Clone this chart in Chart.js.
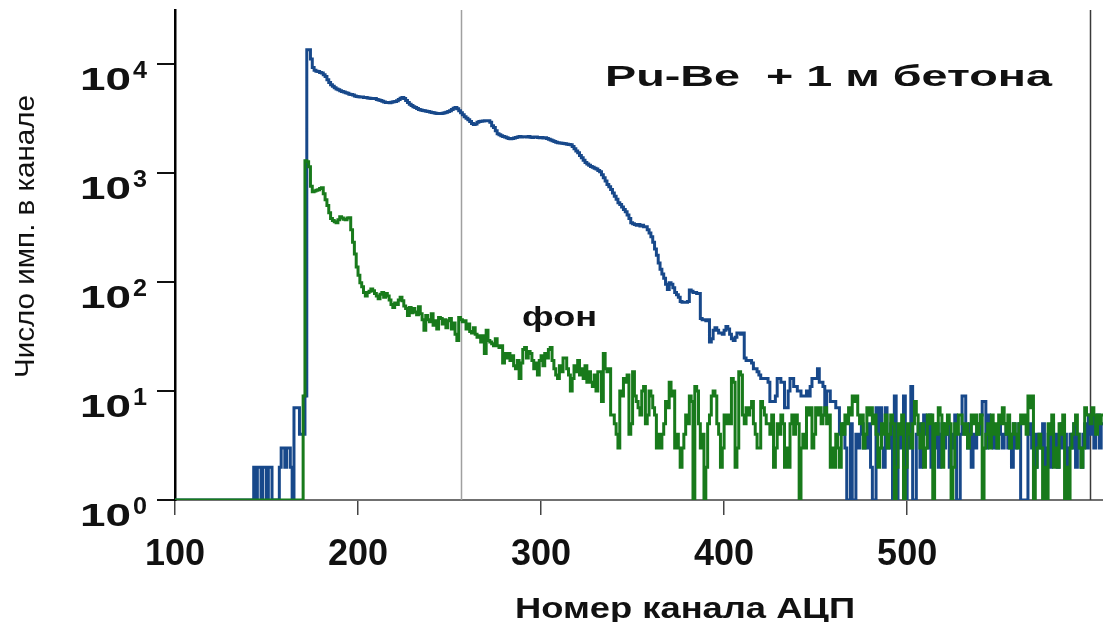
<!DOCTYPE html>
<html>
<head>
<meta charset="utf-8">
<script src="https://cdn.jsdelivr.net/npm/chart.js@4.4.1/dist/chart.umd.min.js"></script>
<style>
  html, body { margin: 0; padding: 0; background: #ffffff; }
  #wrap { width: 1103px; height: 622px; }
  canvas { display: block; }
</style>
</head>
<body>
<div id="wrap"><canvas id="spectrum" width="1103" height="622"></canvas></div>
<script>
// ADC channel of the first entry in each spectrum
const firstChannel = 100;

// Pu-Be source behind 1 m of concrete: counts per ADC channel (ch 100 … 607)
const pubeCounts = [
  1,1,1,1,1,1,1,1,1,1,
  1,1,1,1,1,1,1,1,1,1,
  1,1,1,1,1,1,1,1,1,1,
  1,1,1,1,1,1,1,1,1,1,
  1,1,1,1,2,1,2,2,1,2,
  2,1,2,2,1,1,1,1,2,3,
  3,2,3,3,2,1,7,7,7,4,
  4,4,9,13400,13400,11000,9200,8700,8500,8450,
  8300,8200,7900,7600,7100,6700,6400,6200,6000,5850,
  5750,5650,5550,5500,5400,5350,5250,5200,5150,5050,
  5000,4980,4950,4950,4900,4880,4850,4820,4800,4790,
  4780,4700,4650,4600,4520,4450,4400,4390,4380,4420,
  4460,4490,4560,4700,4820,4880,4800,4600,4390,4250,
  4120,4020,3950,3880,3800,3750,3720,3700,3660,3630,
  3600,3570,3540,3510,3490,3480,3480,3500,3540,3590,
  3630,3700,3800,3900,3950,3850,3700,3550,3400,3250,
  3150,3060,2950,2820,2760,2800,2900,2940,2960,2980,
  3000,3000,3000,2900,2700,2590,2420,2280,2230,2180,
  2150,2120,2090,2060,2050,2060,2080,2100,2120,2150,
  2120,2140,2140,2130,2150,2110,2100,2130,2120,2100,
  2090,2100,2080,2090,2060,2030,1990,1960,1930,1900,
  1880,1870,1860,1850,1840,1820,1810,1800,1740,1660,
  1580,1520,1440,1370,1300,1240,1200,1170,1140,1120,
  1100,1080,1050,1020,960,900,840,780,744,700,
  650,610,570,531,510,485,460,439,410,380,
  348,340,335,330,335,325,330,320,320,300,
  280,259,230,200,175,149,130,118,108,95,
  85,98,95,88,80,76,72,66,65,65,
  65,66,84,82,80,80,78,78,46,45,
  45,44,45,28,30,36,38,36,34,34,
  33,36,39,37,33,30,29,31,34,34,
  33,34,20,19,19,19,18,16,16,15,
  14,13,13,13,13,12,8,8,8,9,
  13,13,12,12,7,7,10,13,13,11,
  11,10,10,9,9,9,10,9,11,13,
  13,13,16,12,12,11,6,10,10,8,
  8,8,7,7,4,4,5,3,1,1,
  5,1,1,4,3,4,5,3,4,3,
  5,2,1,1,7,4,7,3,2,7,
  3,3,5,1,9,1,4,3,5,9,
  1,3,4,11,1,1,4,5,2,5,
  6,4,3,6,2,4,3,5,2,4,
  5,3,4,5,2,3,4,6,1,1,
  4,9,9,4,3,5,2,4,3,5,
  4,6,8,8,3,6,4,5,3,4,
  3,5,4,3,4,5,3,4,2,5,
  3,4,5,1,1,1,1,4,5,3,
  4,2,4,4,3,5,2,3,4,2,
  5,3,4,2,3,5,3,4,2,3,
  4,3,5,2,4,3,2,4,5,3,
  6,4,6,3,5,6,3,5
];

// Background ("фон"): counts per ADC channel (ch 100 … 607)
const backgroundCounts = [
  1,1,1,1,1,1,1,1,1,1,
  1,1,1,1,1,1,1,1,1,1,
  1,1,1,1,1,1,1,1,1,1,
  1,1,1,1,1,1,1,1,1,1,
  1,1,1,1,1,1,1,1,1,1,
  1,1,1,1,1,1,1,1,1,1,
  1,1,1,1,1,1,1,1,1,1,
  1,9,1290,1260,1135,750,670,680,690,698,
  715,728,640,565,500,430,380,365,355,348,
  370,395,385,375,371,385,387,300,230,180,
  137,115,98,90,80,74,80,82,86,83,
  78,74,70,77,80,72,78,74,68,62,
  58,64,62,68,72,67,60,57,49,58,
  52,57,53,50,59,51,45,36,49,45,
  43,51,40,44,37,47,46,41,45,38,
  44,46,37,42,33,29,47,45,43,44,
  37,41,35,34,38,33,31,32,28,32,
  22,36,29,28,27,26,30,26,25,26,
  18,22,20,22,19,21,17,16,19,13,
  18,24,25,20,23,22,19,16,18,14,
  19,21,17,22,20,24,25,19,16,14,
  13,17,15,20,20,16,14,10,13,17,
  15,19,14,16,13,17,12,15,12,11,
  14,10,15,15,8,22,16,15,16,6,
  6,5,4,3,10,9,13,12,14,4,
  5,15,9,8,7,6,10,11,5,6,
  10,9,7,6,3,4,3,4,5,8,
  7,12,9,10,3,4,3,2,3,4,
  6,5,9,8,1,11,10,5,3,4,
  1,2,5,6,9,10,9,5,4,2,
  3,6,5,6,5,13,12,2,3,15,
  14,6,5,7,6,7,8,5,4,3,
  3,8,7,6,5,5,4,6,2,3,
  5,4,6,5,2,3,2,5,6,4,
  6,5,1,3,4,3,7,6,7,3,
  4,7,6,7,5,6,7,5,6,2,
  3,2,4,3,2,5,4,6,5,7,
  6,9,8,9,6,5,6,3,4,7,
  6,7,5,6,4,2,3,5,4,6,
  3,4,6,5,1,2,5,4,6,1,
  2,5,4,3,5,8,6,4,3,5,
  2,3,6,5,6,1,5,4,7,6,
  2,5,4,6,5,1,2,5,4,6,
  6,5,4,5,3,4,6,5,6,4,
  5,6,1,3,4,5,3,6,4,5,
  3,6,5,7,5,4,6,3,4,5,
  4,3,5,6,5,6,4,9,7,9,
  1,2,3,4,3,1,2,1,5,4,
  6,2,3,2,5,4,6,1,2,1,
  3,4,5,6,4,3,2,3,7,6,
  6,5,7,6,4,6,5,6
];

// channel numbers for every entry
const channels = pubeCounts.map((_, i) => firstChannel + i);

// axis ticks
const xTickValues = [100, 200, 300, 400, 500];
const xTickLabels = ['100', '200', '300', '400', '500'];
const yTickValues = [1, 10, 100, 1000, 10000];
const yTickExponents = ['0', '1', '2', '3', '4'];

// vertical marker lines (ADC channels)
const markerChannels = [256, 600];

// texts
const titleText = 'Pu-Be  + 1 м бетона';
const backgroundLabel = 'фон';
const xAxisTitle = 'Номер канала АЦП';
const yAxisTitle = 'Число имп. в канале';

const BLUE = '#17488a';
const GREEN = '#187a1b';
const FONT = '"Liberation Sans", Arial, sans-serif';

// draws a string squeezed/stretched horizontally to a given width
function fitText(ctx, str, x, y, font, width, align) {
  ctx.save();
  ctx.font = font;
  ctx.textAlign = 'left';
  ctx.textBaseline = 'alphabetic';
  const w = ctx.measureText(str).width;
  const sx = width / w;
  let left = x;
  if (align === 'center') left = x - width / 2;
  if (align === 'right') left = x - width;
  ctx.translate(left, y);
  ctx.scale(sx, 1);
  ctx.fillText(str, 0, 0);
  ctx.restore();
}

const decorations = {
  id: 'spectrumDecorations',
  beforeDatasetsDraw(chart) {
    const { ctx, chartArea, scales } = chart;
    ctx.save();
    markerChannels.forEach((c, i) => {
      const x = Math.round(scales.x.getPixelForValue(c)) + 0.5;
      ctx.strokeStyle = i === 0 ? '#a0a0a0' : '#3a3a3a';
      ctx.lineWidth = 1.5;
      ctx.beginPath();
      ctx.moveTo(x, chartArea.top);
      ctx.lineTo(x, chartArea.bottom);
      ctx.stroke();
    });
    ctx.restore();
  },
  afterDraw(chart) {
    const { ctx, scales } = chart;
    ctx.save();
    ctx.fillStyle = '#111111';

    // y tick labels as powers of ten
    yTickValues.forEach((v, i) => {
      const y = scales.y.getPixelForValue(v);
      fitText(ctx, '10', 131, y + 26, 'bold 31px ' + FONT, 51, 'right');
      fitText(ctx, yTickExponents[i], 133, y + 14, 'bold 23px ' + FONT, 14, 'left');
    });

    // annotation texts
    fitText(ctx, titleText, 605, 86, 'bold 30px ' + FONT, 447, 'left');
    fitText(ctx, backgroundLabel, 522, 326, 'bold 27px ' + FONT, 75, 'left');
    fitText(ctx, xAxisTitle, 515, 618, 'bold 30px ' + FONT, 340, 'left');

    // rotated y axis title
    ctx.save();
    ctx.translate(34, 378);
    ctx.rotate(-Math.PI / 2);
    fitText(ctx, yAxisTitle, 0, 0, '28px ' + FONT, 283, 'left');
    ctx.restore();

    ctx.restore();
  }
};

const ctx = document.getElementById('spectrum').getContext('2d');
new Chart(ctx, {
  type: 'line',
  data: {
    datasets: [
      {
        label: titleText,
        data: channels.map((c, i) => ({ x: c, y: pubeCounts[i] })),
        borderColor: BLUE,
        borderWidth: 3,
        stepped: 'after',
        pointRadius: 0,
        fill: false,
        order: 2
      },
      {
        label: backgroundLabel,
        data: channels.map((c, i) => ({ x: c, y: backgroundCounts[i] })),
        borderColor: GREEN,
        borderWidth: 3,
        stepped: 'after',
        pointRadius: 0,
        fill: false,
        order: 1
      }
    ]
  },
  options: {
    responsive: false,
    animation: false,
    devicePixelRatio: 1,
    layout: { padding: { left: 0, right: 0, top: 10, bottom: 0 } },
    plugins: {
      legend: { display: false },
      tooltip: { enabled: false },
      title: { display: false }
    },
    scales: {
      x: {
        type: 'linear',
        min: 100,
        max: 607,
        border: { display: true, color: '#707070', width: 2 },
        grid: {
          drawOnChartArea: false,
          drawTicks: true,
          tickLength: 15,
          tickColor: '#444444',
          lineWidth: 1.5
        },
        afterBuildTicks: (scale) => {
          scale.ticks = xTickValues.map(v => ({ value: v }));
        },
        ticks: {
          autoSkip: false,
          maxRotation: 0,
          padding: 18,
          color: '#111111',
          font: { family: FONT, size: 36, weight: 'bold' },
          callback: (value, index) => xTickLabels[index]
        },
        afterFit: (scale) => { scale.height = 122; }
      },
      y: {
        type: 'logarithmic',
        min: 1,
        max: 31000,
        border: { display: true, color: '#000000', width: 2.5 },
        grid: {
          drawOnChartArea: false,
          drawTicks: true,
          tickLength: 18,
          tickColor: '#111111',
          lineWidth: 2
        },
        afterBuildTicks: (scale) => {
          scale.ticks = yTickValues.map(v => ({ value: v }));
        },
        ticks: { display: false },
        afterFit: (scale) => { scale.width = 175; }
      }
    }
  },
  plugins: [decorations]
});
</script>
</body>
</html>
